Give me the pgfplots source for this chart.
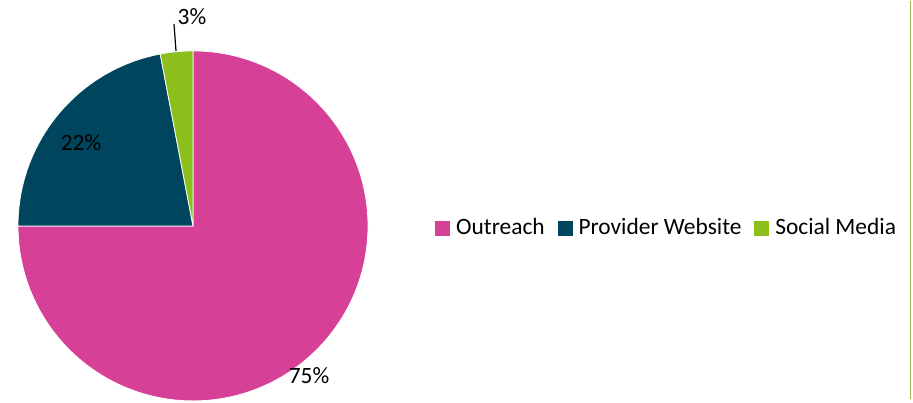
\documentclass[border=0pt]{standalone}
\usepackage{pgfplots}
\pgfplotsset{compat=1.18}
\usepackage{fontspec}
\setmainfont{Carlito}
\definecolor{cOut}{RGB}{214,64,151}
\definecolor{cWeb}{RGB}{0,69,94}
\definecolor{cSoc}{RGB}{140,190,28}
\definecolor{cFrame}{RGB}{155,187,89}
\begin{document}
\begin{tikzpicture}
% data (percent)
\pgfmathsetmacro{\vA}{75}
\pgfmathsetmacro{\vB}{22}
\pgfmathsetmacro{\vC}{3}
\pgfmathsetmacro{\aA}{90-3.6*\vA}
\pgfmathsetmacro{\aB}{\aA-3.6*\vB}
\pgfmathsetmacro{\aC}{\aB-3.6*\vC}
\begin{axis}[
  x=0.5pt, y=0.5pt, xmin=0, xmax=913, ymin=0, ymax=402,
  hide axis, clip=false,
  legend image code/.code={\fill[#1] (0pt,-3.5pt) rectangle (7pt,3.5pt);},
  legend style={at={(axis cs:429,175)}, anchor=west, draw=none, fill=none,
    legend columns=-1, font=\fontsize{11.7}{13}\selectfont,
    nodes={inner sep=0pt},
    /tikz/every odd column/.append style={column sep=3pt},
    /tikz/every even column/.append style={column sep=6.5pt}},
]
\path (axis cs:0,0) rectangle (axis cs:913,402);
\fill[cOut, draw=white, line width=0.4pt] (axis cs:193,177) -- ++(90:87.5pt) arc[start angle=90, end angle=\aA, radius=87.5pt] -- cycle;
\fill[cWeb, draw=white, line width=0.4pt] (axis cs:193,177) -- ++(\aA:87.5pt) arc[start angle=\aA, end angle=\aB, radius=87.5pt] -- cycle;
\fill[cSoc, draw=white, line width=0.4pt] (axis cs:193,177) -- ++(\aB:87.5pt) arc[start angle=\aB, end angle=\aC, radius=87.5pt] -- cycle;
\addplot[black, line width=0.6pt, forget plot] coordinates {(174,379) (176,352)};
\addplot[cFrame, line width=0.9pt, forget plot] coordinates {(910.5,402) (910.5,4)};
\node[font=\fontsize{11.7}{13}\selectfont] at (axis cs:309,27) {75\%};
\node[font=\fontsize{11.7}{13}\selectfont] at (axis cs:81,260) {22\%};
\node[font=\fontsize{11.7}{13}\selectfont] at (axis cs:192,386) {3\%};
\addlegendimage{cOut}\addlegendentry{Outreach}
\addlegendimage{cWeb}\addlegendentry{Provider Website}
\addlegendimage{cSoc}\addlegendentry{Social Media}
\end{axis}
\end{tikzpicture}
\end{document}
